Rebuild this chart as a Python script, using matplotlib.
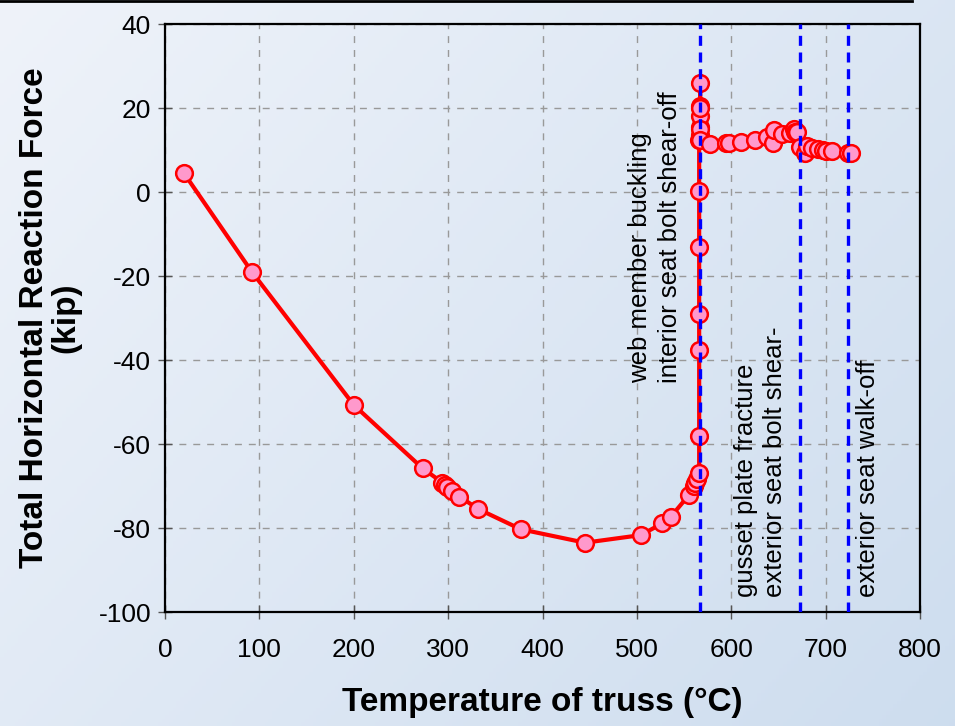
import numpy as np
import matplotlib
matplotlib.use("Agg")
import matplotlib.pyplot as plt
from matplotlib.lines import Line2D

plt.rcParams['font.family'] = ['Liberation Sans', 'DejaVu Sans']
plt.rcParams['axes.unicode_minus'] = False

# Data: temperature (°C) vs total horizontal reaction force (kip)
temp = [20, 92, 200, 273, 294, 297, 299, 304, 312, 332, 377, 445, 504, 527, 536,
        555, 560, 562, 564, 566, 566, 566, 566, 566, 566, 566,
        567, 567, 567, 567, 567, 567, 567, 567,
        578, 594, 598, 610, 625, 638, 644, 645, 654, 662, 666, 668, 670,
        673, 678, 680, 686, 692, 697, 700, 707, 724, 727]
force = [4.5, -19, -50.7, -65.8, -69.2, -69.8, -70.3, -71.1, -72.5, -75.5, -80.3, -83.5, -81.7, -78.9, -77.3,
         -72.2, -70.0, -69.4, -68.4, -67.0, -58.0, -37.5, -29.0, -13.0, 0.3, 12.5,
         13.5, 15.5, 18.0, 20.5, 26.0, 20.0, 15.0, 12.5,
         11.5, 11.6, 11.6, 11.8, 12.4, 13.2, 11.6, 14.8, 13.8, 14.1, 14.9, 14.4, 14.2,
         10.8, 9.2, 11.0, 10.4, 10.2, 10.0, 9.8, 9.7, 9.4, 9.2]

event_temps = [567, 673, 724]
event_labels = ["web member buckling\ninterior seat bolt shear-off",
                "gusset plate fracture\nexterior seat bolt shear-",
                "exterior seat walk-off"]

xticks = [0, 100, 200, 300, 400, 500, 600, 700, 800]
yticks = [-100, -80, -60, -40, -20, 0, 20, 40]

fig = plt.figure(figsize=(9.55, 7.26), dpi=100)

# gradient background
bg = fig.add_axes([0, 0, 1, 1], zorder=-10)
h, w = 200, 260
yy, xx = np.mgrid[0:h, 0:w]
t = (xx / w * 0.6 + yy / h * 0.4)
c0 = np.array([0.937, 0.953, 0.980])
c1 = np.array([0.805, 0.866, 0.935])
img = c0[None, None, :] * (1 - t[..., None]) + c1[None, None, :] * t[..., None]
bg.imshow(img, aspect='auto', extent=[0, 1, 0, 1], origin='upper')
bg.axis('off')

# top rule line
fig.add_artist(Line2D([0, 0.955], [0.9985, 0.9985], transform=fig.transFigure,
                      color='black', lw=2))

ax = fig.add_axes([165/955, 1 - 612/726, (920-165)/955, (612-24)/726])
ax.patch.set_alpha(0)

ax.plot(temp, force, color='red', lw=3, marker='o', markersize=12,
        markerfacecolor='#ff99cc', markeredgecolor='red', markeredgewidth=1.8,
        zorder=3)

for et in event_temps:
    ax.axvline(et, color='#0000ff', lw=2.4, linestyle=(0, (3, 2)), zorder=4)

ax.set_xlim(0, 800)
ax.set_ylim(-100, 40)
ax.set_xticks(xticks)
ax.set_yticks(yticks)
ax.grid(True, color='#999999', linestyle=(0, (5, 5)), lw=1)
ax.set_axisbelow(True)

for s in ax.spines.values():
    s.set_linewidth(1.6)
    s.set_color('black')

ax.tick_params(direction='inout', length=10, width=1, labelsize=19, color='#555555', pad=5)
ax.tick_params(axis='x', pad=14)

ax.set_xlabel("Temperature of truss (°C)", fontsize=24, fontweight='bold', labelpad=18)
ax.set_ylabel("Total Horizontal Reaction Force\n(kip)", fontsize=24, fontweight='bold',
              labelpad=12, linespacing=1.05)

ax.text(519, -45.5, event_labels[0], rotation=90, ha='center', va='bottom',
        multialignment='left', fontsize=18.5, linespacing=1.3, zorder=5)
ax.text(631, -96.4, event_labels[1], rotation=90, ha='center', va='bottom',
        multialignment='left', fontsize=18.5, linespacing=1.3, zorder=5)
ax.text(745, -96.4, event_labels[2], rotation=90, ha='center', va='bottom',
        multialignment='left', fontsize=18.5, linespacing=1.3, zorder=5)

fig.savefig("out.png", dpi=100)
